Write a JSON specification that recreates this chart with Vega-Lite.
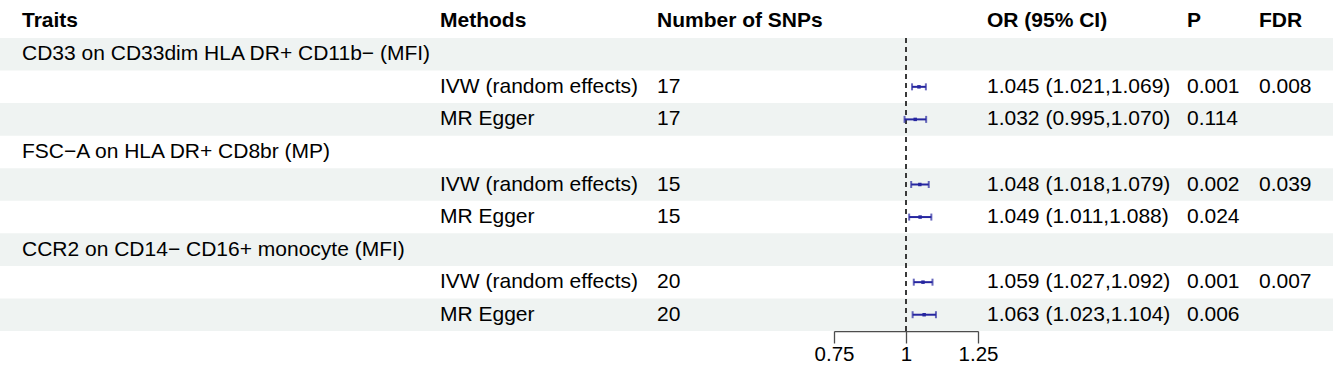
{
  "$schema": "https://vega.github.io/schema/vega-lite/v6.json",
  "autosize": {"type": "pad"},
  "padding": {"left": 0, "top": 9, "right": 0, "bottom": 0},
  "background": "white",
  "bounds": "flush",
  "spacing": 0,
  "config": {
    "view": {"stroke": null},
    "font": "Liberation Sans",
    "title": {"anchor": "start", "fontSize": 21, "fontWeight": "bold", "color": "#000000", "offset": 7, "font": "Liberation Sans"},
    "text": {"fontSize": 21, "color": "#000000", "align": "left", "baseline": "middle", "font": "Liberation Sans"}
  },
  "data": {
    "values": [
      {"row": 1, "trait": "CD33 on CD33dim HLA DR+ CD11b− (MFI)", "method": "", "snps": "", "or": null, "lo": null, "hi": null, "ci": "", "p": "", "fdr": ""},
      {"row": 2, "trait": "", "method": "IVW (random effects)", "snps": "17", "or": 1.045, "lo": 1.021, "hi": 1.069, "ci": "1.045 (1.021,1.069)", "p": "0.001", "fdr": "0.008"},
      {"row": 3, "trait": "", "method": "MR Egger", "snps": "17", "or": 1.032, "lo": 0.995, "hi": 1.070, "ci": "1.032 (0.995,1.070)", "p": "0.114", "fdr": ""},
      {"row": 4, "trait": "FSC−A on HLA DR+ CD8br (MP)", "method": "", "snps": "", "or": null, "lo": null, "hi": null, "ci": "", "p": "", "fdr": ""},
      {"row": 5, "trait": "", "method": "IVW (random effects)", "snps": "15", "or": 1.048, "lo": 1.018, "hi": 1.079, "ci": "1.048 (1.018,1.079)", "p": "0.002", "fdr": "0.039"},
      {"row": 6, "trait": "", "method": "MR Egger", "snps": "15", "or": 1.049, "lo": 1.011, "hi": 1.088, "ci": "1.049 (1.011,1.088)", "p": "0.024", "fdr": ""},
      {"row": 7, "trait": "CCR2 on CD14− CD16+ monocyte (MFI)", "method": "", "snps": "", "or": null, "lo": null, "hi": null, "ci": "", "p": "", "fdr": ""},
      {"row": 8, "trait": "", "method": "IVW (random effects)", "snps": "20", "or": 1.059, "lo": 1.027, "hi": 1.092, "ci": "1.059 (1.027,1.092)", "p": "0.001", "fdr": "0.007"},
      {"row": 9, "trait": "", "method": "MR Egger", "snps": "20", "or": 1.063, "lo": 1.023, "hi": 1.104, "ci": "1.063 (1.023,1.104)", "p": "0.006", "fdr": ""}
    ]
  },
  "hconcat": [
    {
      "width": 430, "height": 293,
      "title": {"text": "Traits", "dx": 22},
      "layer": [
        {"transform": [{"filter": "datum.row % 2 == 1"}], "mark": {"type": "rect", "fill": "#eff3f2"},
         "encoding": {"y": {"field": "row", "type": "ordinal", "scale": {"domain": [1,2,3,4,5,6,7,8,9], "paddingInner": 0, "paddingOuter": 0}, "axis": null}}},
        {"mark": {"type": "text", "x": 0, "dx": 22},
         "encoding": {"y": {"field": "row", "type": "ordinal", "axis": null}, "text": {"field": "trait"}}}
      ]
    },
    {
      "width": 218, "height": 293,
      "title": {"text": "Methods", "dx": 10},
      "layer": [
        {"transform": [{"filter": "datum.row % 2 == 1"}], "mark": {"type": "rect", "fill": "#eff3f2"},
         "encoding": {"y": {"field": "row", "type": "ordinal", "scale": {"domain": [1,2,3,4,5,6,7,8,9], "paddingInner": 0, "paddingOuter": 0}, "axis": null}}},
        {"mark": {"type": "text", "x": 0, "dx": 10},
         "encoding": {"y": {"field": "row", "type": "ordinal", "axis": null}, "text": {"field": "method"}}}
      ]
    },
    {
      "width": 186, "height": 293,
      "title": {"text": "Number of SNPs", "dx": 9},
      "layer": [
        {"transform": [{"filter": "datum.row % 2 == 1"}], "mark": {"type": "rect", "fill": "#eff3f2"},
         "encoding": {"y": {"field": "row", "type": "ordinal", "scale": {"domain": [1,2,3,4,5,6,7,8,9], "paddingInner": 0, "paddingOuter": 0}, "axis": null}}},
        {"mark": {"type": "text", "x": 0, "dx": 9},
         "encoding": {"y": {"field": "row", "type": "ordinal", "axis": null}, "text": {"field": "snps"}}}
      ]
    },
    {
      "width": 144, "height": 293,
      "title": {"text": " "},
      "layer": [
        {"transform": [{"filter": "datum.row % 2 == 1"}], "mark": {"type": "rect", "fill": "#eff3f2"},
         "encoding": {"y": {"field": "row", "type": "ordinal", "scale": {"domain": [1,2,3,4,5,6,7,8,9], "paddingInner": 0, "paddingOuter": 0}, "axis": null}}},
        {"mark": {"type": "rule", "strokeDash": [5, 4], "color": "#3a3a3a", "strokeWidth": 1.3},
         "encoding": {"x": {"datum": 1, "type": "quantitative", "scale": {"domain": [0.75, 1.25], "nice": false, "zero": false},
           "axis": {"values": [0.75, 1, 1.25], "format": ".3~g", "grid": false, "title": null, "domainColor": "#4d4d4d", "tickColor": "#4d4d4d", "domainWidth": 1.3, "tickWidth": 1.3, "tickSize": 12, "labelFontSize": 20.5, "labelColor": "#000000", "labelPadding": 1, "labelFlush": false, "labelFont": "Liberation Sans"}}}},
        {"transform": [{"filter": "datum.or != null"}], "mark": {"type": "rule", "color": "#2626a0", "strokeWidth": 2},
         "encoding": {"y": {"field": "row", "type": "ordinal", "axis": null}, "x": {"field": "lo", "type": "quantitative"}, "x2": {"field": "hi"}}},
        {"transform": [{"filter": "datum.or != null"}], "mark": {"type": "tick", "color": "#2626a0", "thickness": 2, "size": 7, "orient": "vertical"},
         "encoding": {"y": {"field": "row", "type": "ordinal", "axis": null}, "x": {"field": "lo", "type": "quantitative"}}},
        {"transform": [{"filter": "datum.or != null"}], "mark": {"type": "tick", "color": "#2626a0", "thickness": 2, "size": 7, "orient": "vertical"},
         "encoding": {"y": {"field": "row", "type": "ordinal", "axis": null}, "x": {"field": "hi", "type": "quantitative"}}},
        {"transform": [{"filter": "datum.or != null"}], "mark": {"type": "square", "color": "#2626a0", "filled": true, "opacity": 1, "size": 12},
         "encoding": {"y": {"field": "row", "type": "ordinal", "axis": null}, "x": {"field": "or", "type": "quantitative"}}}
      ]
    },
    {
      "width": 200, "height": 293,
      "title": {"text": "OR (95% CI)", "dx": 9},
      "layer": [
        {"transform": [{"filter": "datum.row % 2 == 1"}], "mark": {"type": "rect", "fill": "#eff3f2"},
         "encoding": {"y": {"field": "row", "type": "ordinal", "scale": {"domain": [1,2,3,4,5,6,7,8,9], "paddingInner": 0, "paddingOuter": 0}, "axis": null}}},
        {"mark": {"type": "text", "x": 0, "dx": 9},
         "encoding": {"y": {"field": "row", "type": "ordinal", "axis": null}, "text": {"field": "ci"}}}
      ]
    },
    {
      "width": 72, "height": 293,
      "title": {"text": "P", "dx": 9},
      "layer": [
        {"transform": [{"filter": "datum.row % 2 == 1"}], "mark": {"type": "rect", "fill": "#eff3f2"},
         "encoding": {"y": {"field": "row", "type": "ordinal", "scale": {"domain": [1,2,3,4,5,6,7,8,9], "paddingInner": 0, "paddingOuter": 0}, "axis": null}}},
        {"mark": {"type": "text", "x": 0, "dx": 9},
         "encoding": {"y": {"field": "row", "type": "ordinal", "axis": null}, "text": {"field": "p"}}}
      ]
    },
    {
      "width": 83, "height": 293,
      "title": {"text": "FDR", "dx": 9},
      "layer": [
        {"transform": [{"filter": "datum.row % 2 == 1"}], "mark": {"type": "rect", "fill": "#eff3f2"},
         "encoding": {"y": {"field": "row", "type": "ordinal", "scale": {"domain": [1,2,3,4,5,6,7,8,9], "paddingInner": 0, "paddingOuter": 0}, "axis": null}}},
        {"mark": {"type": "text", "x": 0, "dx": 9},
         "encoding": {"y": {"field": "row", "type": "ordinal", "axis": null}, "text": {"field": "fdr"}}}
      ]
    }
  ]
}
